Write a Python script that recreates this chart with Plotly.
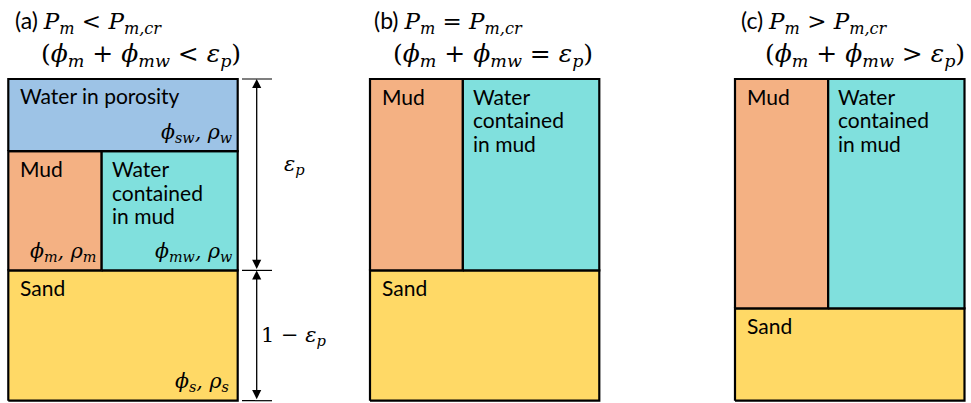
import plotly.graph_objects as go

W, H = 971, 403

# Volume shares of each layer (fraction of total box height, measured from the bottom)
panel_tags = ["(a)", "(b)", "(c)"]
relations = ["&lt;", "=", "&gt;"]
sand_share = [0.405, 0.405, 0.287]          # sand layer (1 - eps_p in a, b)
mud_layer_share = [0.371, 0.595, 0.713]     # phi_m + phi_mw
pore_water_share = [0.224, 0.0, 0.0]        # phi_sw
mud_width_share = [0.407, 0.405, 0.406]     # mud vs. water contained in mud

pore_name = ["Water in porosity"]
mud_name = ["Mud"]
mudwater_name = ["Water", "contained", "in mud"]
sand_name = ["Sand"]
layer_colors = {"pore": "#9DC3E6", "mud": "#F4B183", "mudwater": "#80E0DD", "sand": "#FFD966"}

# Box placement in pixels
box_left = [8.3, 370.0, 735.0]
box_right = [237.7, 599.3, 964.5]
box_top, box_bottom = 79.0, 400.7
right_extent = [345.0, 603.0, 968.0]

SANS = "Lato"
SERIF = "DejaVu Serif"
LABEL_SIZE = 21
LINE_STEP = 23.5
SYMBOL_SIZE = 20.5

fig = go.Figure()


def rect(n, x0, x1, y0, y1, color):
    fig.add_trace(go.Scatter(
        x=[x0, x1, x1, x0, x0], y=[y0, y0, y1, y1, y0],
        mode="lines", fill="toself", fillcolor=color,
        line=dict(color="black", width=2.2),
        hoverinfo="skip", showlegend=False,
        xaxis=f"x{n}", yaxis=f"y{n}",
    ))


def label(n, text, x, y, xanchor, yanchor, xshift=0, yshift=0, size=LABEL_SIZE, family=SANS):
    fig.add_annotation(
        text=text, x=x, y=y, xref=f"x{n}", yref=f"y{n}",
        xanchor=xanchor, yanchor=yanchor, xshift=xshift, yshift=yshift,
        showarrow=False, align="left",
        font=dict(family=family, size=size, color="black"),
    )


def name_block(n, lines, x, y, xshift, yshift):
    for k, line in enumerate(lines):
        label(n, line, x, y, "left", "top", xshift=xshift, yshift=yshift - k * LINE_STEP)


def math(s):
    return f"<span style='font-family:{SERIF}'>{s}</span>"


layout_axes = {}
for i in range(3):
    n = i + 1
    bw = box_right[i] - box_left[i]
    bh = box_bottom - box_top
    xd0, xd1 = box_left[i] - 4, right_extent[i]
    yd_top, yd_bot = box_top - 4, min(box_bottom + 2.3, H)
    layout_axes[f"xaxis{'' if n == 1 else n}"] = dict(
        domain=[xd0 / W, xd1 / W],
        range=[(xd0 - box_left[i]) / bw, (xd1 - box_left[i]) / bw],
        visible=False, fixedrange=True,
    )
    layout_axes[f"yaxis{'' if n == 1 else n}"] = dict(
        domain=[1 - yd_bot / H, 1 - yd_top / H],
        range=[(box_bottom - yd_bot) / bh, (box_bottom - yd_top) / bh],
        visible=False, fixedrange=True,
    )

    s = sand_share[i]
    m = mud_layer_share[i]
    p = pore_water_share[i]
    mw = mud_width_share[i]

    rect(n, 0, 1, 0, s, layer_colors["sand"])
    rect(n, 0, mw, s, s + m, layer_colors["mud"])
    rect(n, mw, 1, s, s + m, layer_colors["mudwater"])
    if p > 0:
        rect(n, 0, 1, s + m, s + m + p, layer_colors["pore"])

    # Layer names
    if p > 0:
        name_block(n, pore_name, 0, s + m + p, 10, -2)
    name_block(n, mud_name, 0, s + m, 10, -3)
    name_block(n, mudwater_name, mw, s + m, 8, -3)
    name_block(n, sand_name, 0, s, 10, -3)

# Symbols for panel (a)
s, m, p, mw = sand_share[0], mud_layer_share[0], pore_water_share[0], mud_width_share[0]
phi = "\u03d5"
rho = "\u03c1"
eps = "\u03b5"
label(1, f"<i>{phi}<sub>sw</sub>, {rho}<sub>w</sub></i>", 1, s + m, "right", "bottom",
      xshift=-4, yshift=3, size=SYMBOL_SIZE, family=SERIF)
label(1, f"<i>{phi}<sub>m</sub>, {rho}<sub>m</sub></i>", mw, s, "right", "bottom",
      xshift=-4, yshift=3, size=SYMBOL_SIZE, family=SERIF)
label(1, f"<i>{phi}<sub>mw</sub>, {rho}<sub>w</sub></i>", 1, s, "right", "bottom",
      xshift=-4, yshift=3, size=SYMBOL_SIZE, family=SERIF)
label(1, f"<i>{phi}<sub>s</sub>, {rho}<sub>s</sub></i>", 1, 0, "right", "bottom",
      xshift=-7, yshift=4, size=SYMBOL_SIZE, family=SERIF)

# Dimension arrows beside panel (a)
x_arrow = (256.7 - box_left[0]) / (box_right[0] - box_left[0])
x_tick0 = (242.0 - box_left[0]) / (box_right[0] - box_left[0])
x_tick1 = (272.0 - box_left[0]) / (box_right[0] - box_left[0])
for yv in [0, s, 1]:
    fig.add_trace(go.Scatter(
        x=[x_tick0, x_tick1], y=[yv, yv], mode="lines",
        line=dict(color="black", width=1.2), hoverinfo="skip",
        showlegend=False, xaxis="x", yaxis="y",
    ))
for y0, y1 in [(s, 1), (0, s)]:
    fig.add_annotation(
        x=x_arrow, y=y1, ax=x_arrow, ay=y0, xref="x", yref="y", axref="x", ayref="y",
        text="", showarrow=True, arrowside="end+start",
        arrowhead=2, startarrowhead=2, arrowsize=1.4, startarrowsize=1.4,
        arrowwidth=1.3, arrowcolor="black", standoff=0, startstandoff=0,
    )
x_lab = (294.0 - box_left[0]) / (box_right[0] - box_left[0])
label(1, f"<i>{eps}<sub>p</sub></i>", x_lab, s + (1 - s) * 0.55, "center", "middle",
      size=21, family=SERIF)
label(1, f"1 \u2212 <i>{eps}<sub>p</sub></i>", x_lab, s / 2, "center", "middle",
      size=21, family=SERIF)

# Panel titles
title_x1 = [13, 372, 739]
title_x2 = [39, 391, 763]
for i in range(3):
    line1 = (f"{panel_tags[i]} " +
             math(f"<i>P<sub>m</sub></i> {relations[i]} <i>P<sub>m,cr</sub></i>"))
    line2 = math(f"(<i>{phi}<sub>m</sub></i> + <i>{phi}<sub>mw</sub></i> {relations[i]} "
                 f"<i>{eps}<sub>p</sub></i>)")
    fig.add_annotation(text=line1, x=title_x1[i] / W, y=1 - 22 / H, xref="paper", yref="paper",
                       xanchor="left", yanchor="middle", showarrow=False,
                       font=dict(family=SANS, size=23, color="black"))
    fig.add_annotation(text=line2, x=title_x2[i] / W, y=1 - 55 / H, xref="paper", yref="paper",
                       xanchor="left", yanchor="middle", showarrow=False,
                       font=dict(family=SANS, size=25, color="black"))

fig.update_layout(
    width=W, height=H,
    margin=dict(l=0, r=0, t=0, b=0),
    paper_bgcolor="white", plot_bgcolor="rgba(0,0,0,0)",
    showlegend=False,
    **layout_axes,
)

fig.write_html("out.html", config={"displayModeBar": False})
